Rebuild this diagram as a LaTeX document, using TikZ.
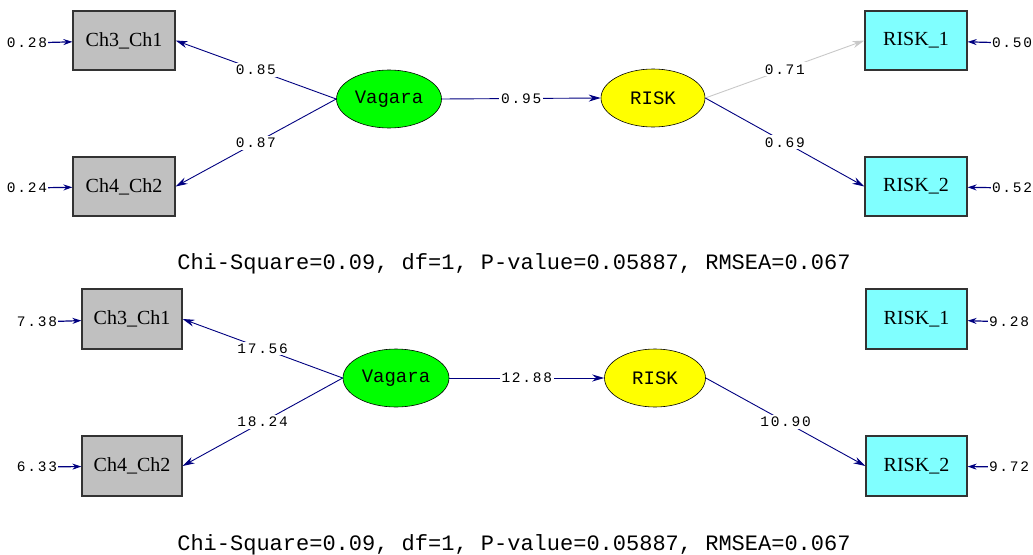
\documentclass[tikz,border=0pt]{standalone}
\usepackage{fontspec}
\setmainfont{Liberation Serif}
\newfontfamily\monofnt{Liberation Mono}
\newfontfamily\numfnt[LetterSpace=12]{Liberation Mono}
\usetikzlibrary{arrows.meta,shapes.geometric}
\definecolor{boxgray}{HTML}{C0C0C0}
\definecolor{boxcyan}{HTML}{80FFFF}
\definecolor{latgreen}{HTML}{00FF00}
\definecolor{latyellow}{HTML}{FFFF00}
\definecolor{pathnavy}{HTML}{000080}
\definecolor{pathgray}{HTML}{C8C8C8}
\begin{document}
\begin{tikzpicture}[x=1pt,y=-1pt,
  obsbox/.style={draw=black!80,line width=1.2pt,minimum width=102pt,minimum height=59pt,inner sep=0pt,font=\fontsize{20}{22}\selectfont},
  graybox/.style={obsbox,fill=boxgray},
  cyanbox/.style={obsbox,fill=boxcyan},
  latent/.style={ellipse,draw=black,line width=0.6pt,minimum width=105pt,minimum height=58pt,inner sep=0pt,font=\monofnt\fontsize{19}{21}\selectfont},
  errlab/.style={font=\numfnt\fontsize{14.5}{16}\selectfont,inner sep=1pt},
  pathlab/.style={font=\numfnt\fontsize{14.5}{16}\selectfont,fill=white,inner sep=2pt},
  patharrow/.style={draw=pathnavy,line width=0.9pt,-{Stealth[length=12pt,width=7pt]}},
  grayarrow/.style={draw=pathgray,line width=0.9pt,-{Stealth[length=12pt,width=7pt]}},
  errarrow/.style={draw=pathnavy,line width=1.2pt,-{Stealth[length=9pt,width=6pt]}},
  fitlab/.style={font=\monofnt\fontsize{22}{24}\selectfont,inner sep=0pt}
]
\useasboundingbox (0,0) rectangle (1033,554);
% ---------------- top diagram ----------------
\node[graybox] (ta) at (124,40.5) {Ch3\_Ch1};
\node[graybox] (tb) at (124,186.5) {Ch4\_Ch2};
\node[cyanbox] (tc) at (916,40.5) {RISK\_1};
\node[cyanbox] (td) at (916,186.5) {RISK\_2};
\node[latent,fill=latgreen] (tv) at (389,99) {Vagara};
\node[latent,fill=latyellow,minimum width=104pt] (tr) at (653,98) {RISK};
\node[errlab] (tea) at (27,43) {0.28};
\node[errlab] (teb) at (27,188) {0.24};
\node[errlab] (tec) at (1012,43) {0.50};
\node[errlab] (ted) at (1012,188) {0.52};
\draw[errarrow] (tea) -- (ta);
\draw[errarrow] (teb) -- (tb);
\draw[errarrow] (tec) -- (tc);
\draw[errarrow] (ted) -- (td);
\draw[patharrow] (tv.west) -- node[pathlab,pos=0.5] {0.85} (ta.east);
\draw[patharrow] (tv.west) -- node[pathlab,pos=0.5] {0.87} (tb.east);
\draw[patharrow] (tv.east) -- node[pathlab,pos=0.5] {0.95} (tr.west);
\draw[grayarrow] (tr.east) -- node[pathlab,pos=0.5] {0.71} (tc.west);
\draw[patharrow] (tr.east) -- node[pathlab,pos=0.5] {0.69} (td.west);
\node[fitlab] (tfit) at (514,264) {Chi-Square=0.09, df=1, P-value=0.05887, RMSEA=0.067};
% ---------------- bottom diagram ----------------
\node[graybox,minimum width=100pt,minimum height=60pt] (ba) at (132,319) {Ch3\_Ch1};
\node[graybox,minimum width=100pt,minimum height=60pt] (bb) at (132,466) {Ch4\_Ch2};
\node[cyanbox,minimum width=101pt,minimum height=60pt] (bc) at (916.5,319) {RISK\_1};
\node[cyanbox,minimum width=101pt,minimum height=60pt] (bd) at (916.5,466) {RISK\_2};
\node[latent,fill=latgreen,minimum width=106pt] (bv) at (396,378) {Vagara};
\node[latent,fill=latyellow,minimum width=101pt] (br) at (655,378) {RISK};
\node[errlab] (bea) at (37,322) {7.38};
\node[errlab] (beb) at (37,467) {6.33};
\node[errlab] (bec) at (1009,322) {9.28};
\node[errlab] (bed) at (1009,467) {9.72};
\draw[errarrow] (bea) -- (ba);
\draw[errarrow] (beb) -- (bb);
\draw[errarrow] (bec) -- (bc);
\draw[errarrow] (bed) -- (bd);
\draw[patharrow] (bv.west) -- node[pathlab,pos=0.5] {17.56} (ba.east);
\draw[patharrow] (bv.west) -- node[pathlab,pos=0.5] {18.24} (bb.east);
\draw[patharrow] (bv.east) -- node[pathlab,pos=0.5] {12.88} (br.west);
\draw[patharrow] (br.east) -- node[pathlab,pos=0.5] {10.90} (bd.west);
\node[fitlab] (bfit) at (514,545) {Chi-Square=0.09, df=1, P-value=0.05887, RMSEA=0.067};
\end{tikzpicture}
\end{document}
